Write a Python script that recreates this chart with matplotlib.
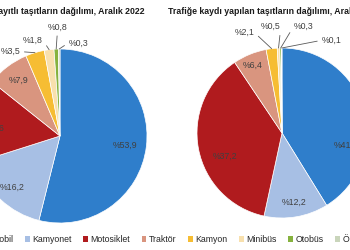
import matplotlib
matplotlib.use('Agg')
import matplotlib.pyplot as plt
from matplotlib.patches import Patch
import numpy as np

plt.rcParams['font.family'] = ['Liberation Sans', 'DejaVu Sans']

# Data
categories = ['Otomobil', 'Kamyonet', 'Motosiklet', 'Traktör',
              'Kamyon', 'Minibüs', 'Otobüs', 'Özel amaçlı']
registered = [53.9, 16.2, 15.6, 7.9, 3.5, 1.8, 0.8, 0.3]
new_registered = [41.2, 12.2, 37.2, 6.4, 2.1, 0.5, 0.3, 0.1]

title_left = 'Trafiğe kayıtlı taşıtların dağılımı, Aralık 2022'
title_right = 'Trafiğe kaydı yapılan taşıtların dağılımı, Aralık 2022'

colors = ['#2f7ecb', '#a7bfe4', '#b01b1e', '#d9957f',
          '#f6bd33', '#f8e0ad', '#86b23e', '#c9d5bb']

# label positions (pie radius units) and which ones get a leader line
left_pos = [(0.75, -0.11), (-0.55, -0.59), (-0.78, 0.09), (-0.48, 0.64),
            (-0.57, 0.97), (-0.31, 1.10), (-0.03, 1.25), (0.21, 1.07)]
right_pos = [(0.75, -0.14), (0.14, -0.81), (-0.67, -0.28), (-0.34, 0.80),
             (-0.44, 1.18), (-0.13, 1.25), (0.25, 1.25), (0.58, 1.09)]
leaders = [False, False, False, False, True, True, True, True]

W, H = 350, 250
fig = plt.figure(figsize=(3.5, 2.5), dpi=100)
fig.patch.set_facecolor('white')

label_color = '#404040'
fs = 6.3


def fmt(v):
    return '%' + f'{v:.1f}'.replace('.', ',')


def draw_pie(cx, cy, r, values, positions):
    ax = fig.add_axes([(cx - r) / W, (H - cy - r) / H, 2 * r / W, 2 * r / H])
    ax.pie(values, colors=colors, startangle=90, counterclock=False,
           radius=1, wedgeprops=dict(edgecolor='white', linewidth=0.5))
    ax.set_xlim(-1, 1)
    ax.set_ylim(-1, 1)
    ax.set_aspect('equal')
    ax.axis('off')
    total = sum(values)
    cum = np.cumsum([0] + list(values))
    for i, v in enumerate(values):
        mid = 90 - 360 * (cum[i] + v / 2) / total
        px, py = np.cos(np.radians(mid)), np.sin(np.radians(mid))
        tx, ty = positions[i]
        if leaders[i]:
            if abs(tx - px) < 0.06:
                rel = (0.5, 0.0)
            elif tx < px:
                rel = (1.0, 0.5)
            else:
                rel = (0.0, 0.5)
            ax.annotate(fmt(v), xy=(px, py), xytext=(tx, ty),
                        ha='center', va='center', fontsize=fs,
                        color=label_color, annotation_clip=False,
                        arrowprops=dict(arrowstyle='-', color='#595959',
                                        lw=0.6, relpos=rel,
                                        shrinkA=1, shrinkB=0))
        else:
            ax.text(tx, ty, fmt(v), ha='center', va='center',
                    fontsize=fs, color=label_color, clip_on=False)
    return ax


draw_pie(60, 136, 87, registered, left_pos)
draw_pie(282, 133, 85, new_registered, right_pos)

fig.text(145 / W, 1 - 12 / H, title_left, ha='right', va='center',
         fontsize=fs, fontweight='bold', color='#1a1a1a')
fig.text(168 / W, 1 - 12 / H, title_right, ha='left', va='center',
         fontsize=fs, fontweight='bold', color='#1a1a1a')

handles = [Patch(facecolor=c, edgecolor='none') for c in colors]
fig.legend(handles, categories, loc='center', ncol=8,
           bbox_to_anchor=(180 / W, 11 / H), frameon=False,
           fontsize=fs, handlelength=0.55, handleheight=0.55,
           handletextpad=0.3, columnspacing=1.3, labelcolor='#262626')

fig.savefig('out.png', dpi=100)
